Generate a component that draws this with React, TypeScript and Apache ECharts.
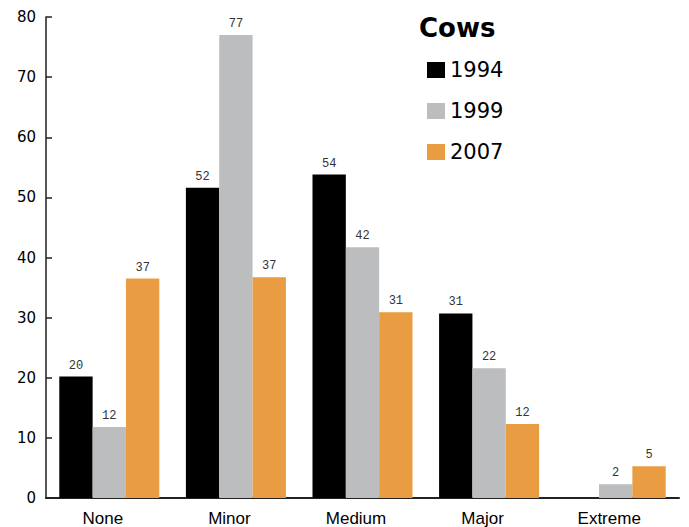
import React, { useEffect, useRef } from "react";
import * as echarts from "echarts";

const categories = ["None", "Minor", "Medium", "Major", "Extreme"];
const seriesNames = ["1994", "1999", "2007"];
const values1994 = [20.2, 51.6, 53.8, 30.7, 0];
const values1999 = [11.8, 77.0, 41.7, 21.6, 2.3];
const values2007 = [36.5, 36.7, 30.9, 12.3, 5.3];
const colors = ["#000000", "#bcbdbf", "#e99c42"];
const legendTitle = "Cows";

export default function App() {
  const ref = useRef<HTMLDivElement>(null);
  useEffect(() => {
    if (!ref.current) return;
    const chart = echarts.init(ref.current, undefined, { renderer: "svg" });
    const data = [values1994, values1999, values2007];
    chart.setOption({
      animation: false,
      grid: { left: 46, right: 10, top: 17, bottom: 28, containLabel: false },
      title: {
        text: legendTitle,
        left: 414,
        top: 10,
        textStyle: { fontFamily: "DejaVu Sans", fontWeight: 900, fontSize: 26, color: "#000" },
      },
      legend: {
        orient: "vertical",
        left: 422,
        top: 53,
        itemWidth: 18,
        itemHeight: 16,
        itemGap: 17,
        icon: "rect",
        data: seriesNames,
        textStyle: { fontFamily: "DejaVu Sans", fontSize: 21, lineHeight: 24, color: "#000" },
      },
      xAxis: {
        type: "category",
        data: categories,
        axisLine: { lineStyle: { color: "#222", width: 2 } },
        axisTick: { inside: true, length: 8, lineStyle: { color: "#222", width: 1.5 } },
        axisLabel: {
          fontFamily: "Liberation Sans",
          fontSize: 17,
          color: "#000",
          margin: 12,
          padding: [0, 13, 0, 0],
        },
      },
      yAxis: {
        type: "value",
        min: 0,
        max: 80,
        interval: 10,
        splitLine: { show: false },
        axisLine: { show: true, lineStyle: { color: "#222", width: 1.5 } },
        axisTick: { show: true, inside: true, length: 6, lineStyle: { color: "#222", width: 1.5 } },
        axisLabel: { fontFamily: "DejaVu Sans", fontSize: 15, color: "#000", margin: 10 },
      },
      series: seriesNames.map((name, i) => ({
        name,
        type: "bar",
        data: data[i].map((v) => (v === 0 ? null : v)),
        barGap: "0%",
        barCategoryGap: "21%",
        itemStyle: { color: colors[i] },
        label: {
          show: true,
          position: "top",
          distance: 5,
          fontFamily: "Liberation Mono",
          fontSize: 12,
          color: "#333",
          formatter: (p: any) => String(Math.round(p.value)),
        },
      })),
    });
    return () => chart.dispose();
  }, []);
  return <div ref={ref} style={{ width: 689, height: 527, position: "absolute", left: 0, top: 0 }} />;
}
